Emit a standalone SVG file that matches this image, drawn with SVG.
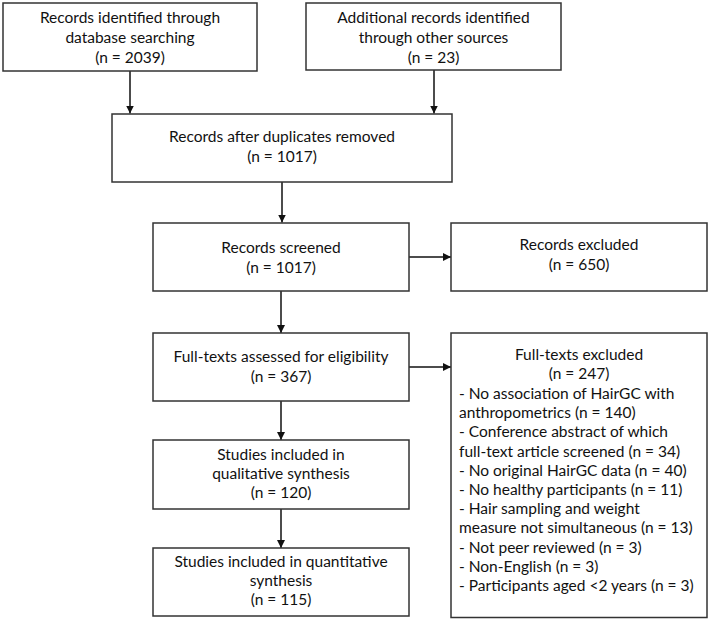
<svg xmlns="http://www.w3.org/2000/svg" width="709" height="620" viewBox="0 0 709 620">
<style>
.box{fill:#fff;stroke:#333;stroke-width:1.5}
.t{font-family:Lato,"Liberation Sans",sans-serif;font-size:15.5px;fill:#111;text-anchor:middle}
.l{text-anchor:start}
.c{stroke:#111;stroke-width:1.5;fill:none;marker-end:url(#ah)}
</style>
<defs>
<marker id="ah" markerWidth="8" markerHeight="8" refX="8" refY="4" orient="auto" markerUnits="userSpaceOnUse">
<path d="M0,0 L8,4 L0,8 Z" fill="#111"/>
</marker>
</defs>
<rect width="709" height="620" fill="#fff"/>
<g id="connectors">
<line class="c" x1="130" y1="71" x2="130" y2="113.5"/>
<line class="c" x1="434" y1="70" x2="434" y2="113.5"/>
<line class="c" x1="282" y1="182" x2="282" y2="222.5"/>
<line class="c" x1="409" y1="257" x2="451" y2="257"/>
<line class="c" x1="281" y1="291" x2="281" y2="333"/>
<line class="c" x1="409" y1="367" x2="451" y2="367"/>
<line class="c" x1="281" y1="401" x2="281" y2="440"/>
<line class="c" x1="281" y1="509" x2="281" y2="548"/>
</g>
<g id="n1">
<rect class="box" x="3" y="3" width="254" height="68"/>
<text class="t" x="130" y="23">Records identified through</text>
<text class="t" x="130" y="43">database searching</text>
<text class="t" x="130" y="63">(n =  2039)</text>
</g>
<g id="n2">
<rect class="box" x="306" y="3" width="255" height="67"/>
<text class="t" x="433.5" y="23">Additional records identified</text>
<text class="t" x="433.5" y="43">through other sources</text>
<text class="t" x="433.5" y="63">(n = 23)</text>
</g>
<g id="n3">
<rect class="box" x="112" y="114" width="340" height="68"/>
<text class="t" x="282" y="142">Records after duplicates removed</text>
<text class="t" x="282" y="162">(n = 1017)</text>
</g>
<g id="n4">
<rect class="box" x="153" y="223" width="256" height="68"/>
<text class="t" x="281" y="253">Records screened</text>
<text class="t" x="281" y="273">(n = 1017)</text>
</g>
<g id="n5">
<rect class="box" x="451" y="223" width="256" height="68"/>
<text class="t" x="579" y="250">Records excluded</text>
<text class="t" x="579" y="270">(n = 650)</text>
</g>
<g id="n6">
<rect class="box" x="153" y="333" width="256" height="68"/>
<text class="t" x="281" y="362">Full-texts assessed for eligibility</text>
<text class="t" x="281" y="382">(n = 367)</text>
</g>
<g id="n7">
<rect class="box" x="451" y="333" width="256" height="284.5"/>
<text class="t" x="579" y="360">Full-texts excluded</text>
<text class="t" x="579" y="379">(n = 247)</text>
<text class="t l" x="459" y="399">- No association of HairGC with</text>
<text class="t l" x="459" y="418">anthropometrics (n = 140)</text>
<text class="t l" x="459" y="437">- Conference abstract of which</text>
<text class="t l" x="459" y="456.5">full-text article screened (n = 34)</text>
<text class="t l" x="459" y="475.5">- No original HairGC data (n = 40)</text>
<text class="t l" x="459" y="495">- No healthy participants (n = 11)</text>
<text class="t l" x="459" y="514">- Hair sampling and weight</text>
<text class="t l" x="459" y="533">measure not simultaneous (n = 13)</text>
<text class="t l" x="459" y="552.5">- Not peer reviewed (n = 3)</text>
<text class="t l" x="459" y="572">- Non-English (n = 3)</text>
<text class="t l" x="459" y="591">- Participants aged &lt;2 years (n = 3)</text>
</g>
<g id="n8">
<rect class="box" x="153" y="440" width="256" height="69"/>
<text class="t" x="281" y="460">Studies included in</text>
<text class="t" x="281" y="479">qualitative synthesis</text>
<text class="t" x="281" y="498">(n = 120)</text>
</g>
<g id="n9">
<rect class="box" x="153" y="548" width="256" height="68"/>
<text class="t" x="281" y="567">Studies included in quantitative</text>
<text class="t" x="281" y="586">synthesis</text>
<text class="t" x="281" y="605">(n = 115)</text>
</g>
</svg>
